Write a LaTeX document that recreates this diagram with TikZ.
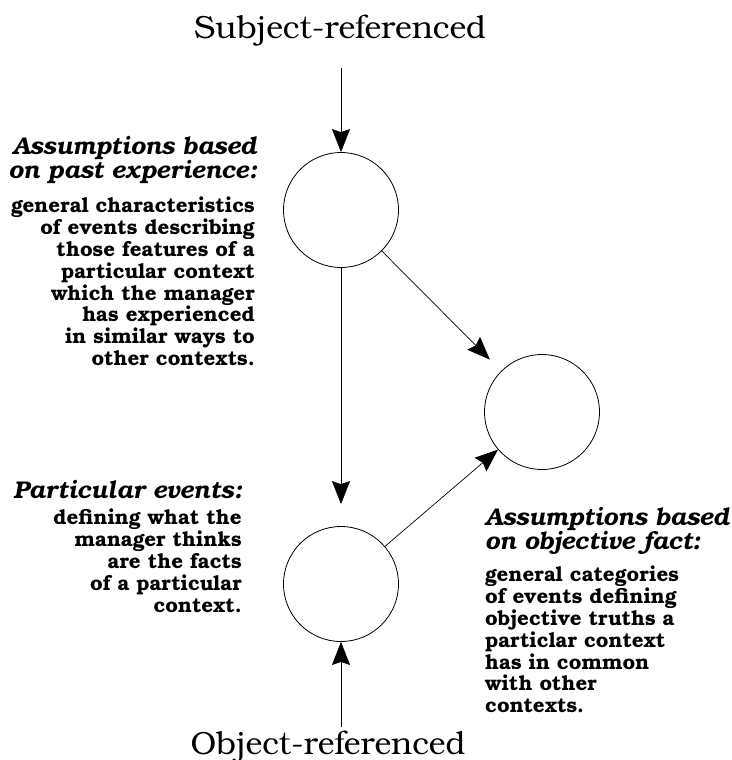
\documentclass[tikz,border=0pt]{standalone}
\usepackage{fontspec}
\setmainfont{TeX Gyre Bonum}
\usetikzlibrary{arrows.meta}
\begin{document}
\begin{tikzpicture}[x=1pt,y=-1pt,
  circ/.style={circle,draw,line width=0.8pt,minimum size=115pt,inner sep=0pt},
  arr/.style={-{Stealth[length=23pt,width=18pt,inset=3pt]},line width=0.7pt},
  title/.style={font=\fontsize{32}{36}\selectfont,inner sep=0pt},
  head/.style={font=\fontsize{24.2}{22}\bfseries\itshape\selectfont,inner sep=0pt},
  body/.style={font=\fontsize{20.5}{21.8}\bfseries\selectfont,inner sep=0pt},
]
\useasboundingbox (0,0) rectangle (731,760);
\node[title,anchor=base] (subj) at (340,38) {Subject-referenced};
\node[title,anchor=base] (obj) at (328,754) {Object-referenced};

\node[circ] (top) at (341,210) {};
\node[circ] (right) at (542,412) {};
\node[circ] (bot) at (341,584) {};

\coordinate (sin) at (341,68);
\coordinate (oin) at (341,727);

\draw[arr] (sin) -- (top);
\draw[arr,shorten >=22pt] (top) -- (bot);
\draw[arr,shorten >=16pt] (top) -- (right);
\draw[arr] (bot) -- (right);
\draw[arr] (oin) -- (bot);

\node[head,align=right,anchor=north east] (h1) at (257,136) {Assumptions based\\on past experience:};
\node[body,align=right,anchor=north east] (b1) at (255,197) {general characteristics\\of events describing\\those features of a\\particular context\\which the manager\\has experienced\\in similar ways to\\other contexts.};

\node[head,align=right,anchor=north east] (h2) at (242,480) {Particular events:};
\node[body,align=right,anchor=north east] (b2) at (242,509) {defining what the\\manager thinks\\are the facts\\of a particular\\context.};

\node[head,align=left,anchor=north west] (h3) at (485,507) {Assumptions based\\on objective fact:};
\node[body,align=left,anchor=north west] (b3) at (485,566) {general categories\\of events defining\\objective truths a\\particlar context\\has in common\\with other\\contexts.};
\end{tikzpicture}
\end{document}
